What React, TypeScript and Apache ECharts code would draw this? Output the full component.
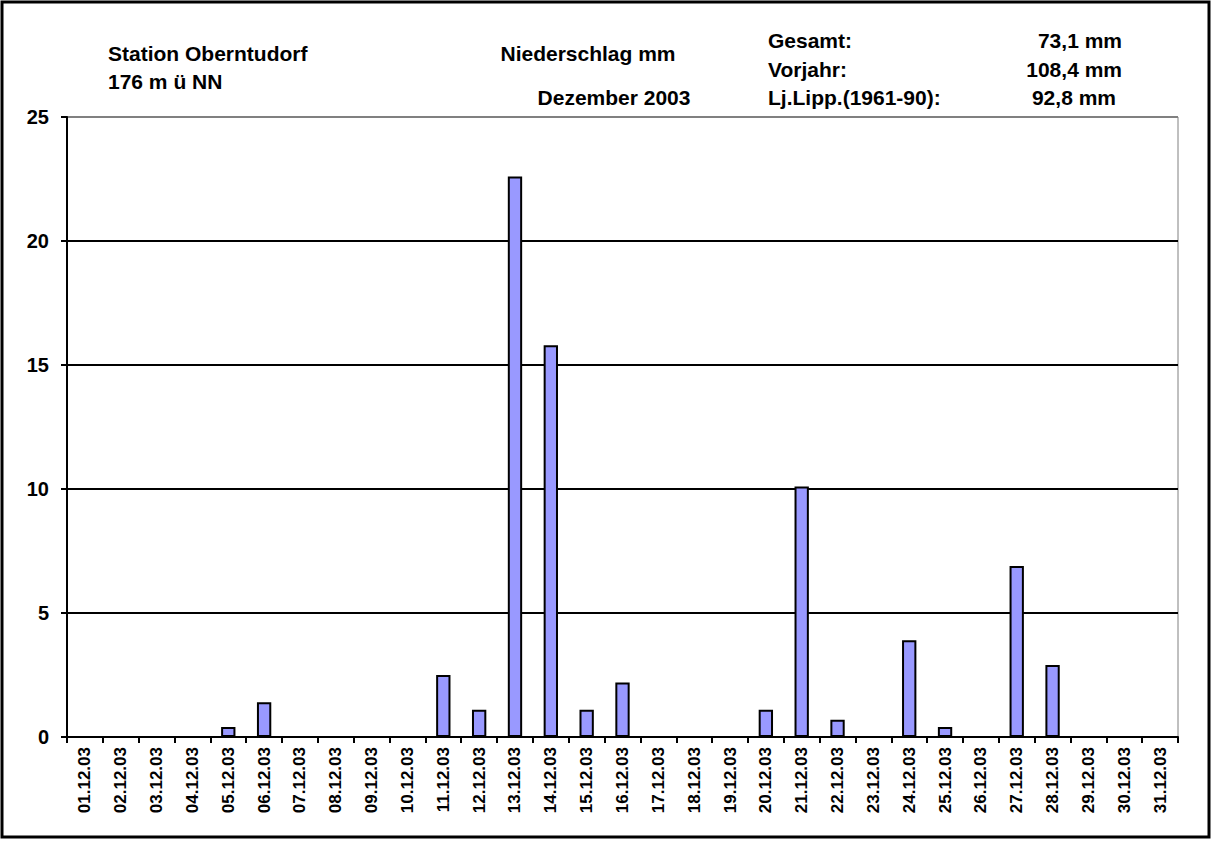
import React, { useEffect, useRef } from "react";
import * as echarts from "echarts";

const days: string[] = [
  "01.12.03", "02.12.03", "03.12.03", "04.12.03", "05.12.03", "06.12.03", "07.12.03", "08.12.03",
  "09.12.03", "10.12.03", "11.12.03", "12.12.03", "13.12.03", "14.12.03", "15.12.03", "16.12.03",
  "17.12.03", "18.12.03", "19.12.03", "20.12.03", "21.12.03", "22.12.03", "23.12.03", "24.12.03",
  "25.12.03", "26.12.03", "27.12.03", "28.12.03", "29.12.03", "30.12.03", "31.12.03",
];

const precipitation: number[] = [
  0, 0, 0, 0, 0.4, 1.4, 0, 0, 0, 0, 2.5, 1.1, 22.6, 15.8, 1.1, 2.2,
  0, 0, 0, 1.1, 10.1, 0.7, 0, 3.9, 0.4, 0, 6.9, 2.9, 0, 0, 0,
];

const yTicks = { min: 0, max: 25, interval: 5 };

const headerLeft = ["Station Oberntudorf", "176 m ü NN"];
const headerMid = ["Niederschlag mm", "Dezember 2003"];
const statLabels = ["Gesamt:", "Vorjahr:", "Lj.Lipp.(1961-90):"];
const statValues = ["73,1 mm", "108,4 mm", "92,8 mm"];

const FONT = "'Liberation Sans', Arial, sans-serif";

export default function App() {
  const ref = useRef<HTMLDivElement>(null);
  useEffect(() => {
    if (!ref.current) return;
    const chart = echarts.init(ref.current, undefined, { renderer: "svg" });
    const txt = (text: string, x: number, y: number, align: string = "left") => ({
      type: "text",
      x,
      y,
      style: {
        text,
        fill: "#000",
        font: `bold 21px ${FONT}`,
        textAlign: align,
        textVerticalAlign: "middle",
      },
    });
    chart.setOption({
      animation: false,
      backgroundColor: "#fff",
      grid: {
        left: 67,
        right: 34,
        top: 117,
        bottom: 105,
        show: true,
        borderColor: "#808080",
        borderWidth: 1,
        backgroundColor: "transparent",
      },
      xAxis: {
        type: "category",
        data: days,
        boundaryGap: true,
        axisLine: { show: true, lineStyle: { color: "#000", width: 2 } },
        axisTick: { show: true, interval: 0, length: 6, lineStyle: { color: "#000", width: 2 } },
        axisLabel: {
          interval: 0,
          rotate: 90,
          margin: 10,
          color: "#000",
          fontSize: 17,
          fontWeight: "bold",
          fontFamily: FONT,
        },
      },
      yAxis: {
        type: "value",
        min: yTicks.min,
        max: yTicks.max,
        interval: yTicks.interval,
        axisLine: { show: true, lineStyle: { color: "#000", width: 2 } },
        axisTick: { show: true, length: 6, lineStyle: { color: "#000", width: 2 } },
        axisLabel: {
          margin: 18,
          color: "#000",
          fontSize: 20,
          fontWeight: "bold",
          fontFamily: FONT,
        },
        splitLine: {
          show: true,
          lineStyle: { color: ["#000", "#000", "#000", "#000", "#000", "#808080"], width: 2 },
        },
      },
      series: [
        {
          type: "bar",
          data: precipitation,
          barWidth: "40%",
          itemStyle: { color: "#9999FF", borderColor: "#000", borderWidth: 2 },
        },
      ],
      graphic: [
        {
          type: "rect",
          shape: { x: 2, y: 2, width: 1207, height: 835 },
          style: { fill: "none", stroke: "#000", lineWidth: 3 },
          silent: true,
        },
        txt(headerLeft[0], 108, 53),
        txt(headerLeft[1], 108, 81),
        txt(headerMid[0], 588, 53, "center"),
        txt(headerMid[1], 614, 97, "center"),
        txt(statLabels[0], 768, 40),
        txt(statLabels[1], 768, 69),
        txt(statLabels[2], 768, 97),
        txt(statValues[0], 1122, 40, "right"),
        txt(statValues[1], 1122, 69, "right"),
        txt(statValues[2], 1116, 97, "right"),
      ],
    });
    return () => chart.dispose();
  }, []);
  return (
    <div
      ref={ref}
      style={{ position: "absolute", left: 0, top: 0, width: 1212, height: 842 }}
    />
  );
}
